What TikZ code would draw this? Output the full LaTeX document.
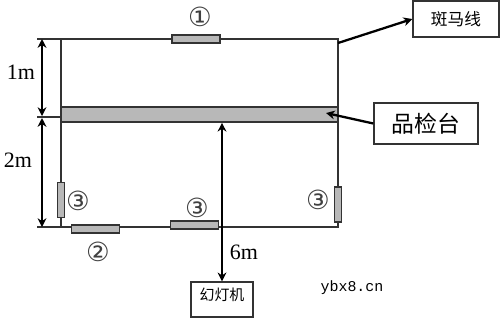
\documentclass[tikz,border=0pt]{standalone}
\usepackage{fontspec}
\setmainfont{Liberation Serif}
\newfontfamily\cjk{Noto Sans CJK SC}
\newfontfamily\circfont{DejaVu Sans}
\newfontfamily\monofnt{Liberation Mono}
\usetikzlibrary{arrows.meta}
\begin{document}
\begin{tikzpicture}[x=0.02cm,y=-0.02cm,
  wire/.style={draw=black!80, line width=0.9pt},
  hcomp/.style={draw=black!80, fill=black!28, line width=0.8pt, inner sep=0, minimum width=0.96cm, minimum height=0.16cm},
  vcomp/.style={draw=black!80, fill=black!28, line width=0.8pt, inner sep=0, minimum width=0.14cm, minimum height=0.7cm},
  arr/.style={line width=1.3pt, -{Stealth[length=5pt,width=5pt]}},
  dim/.style={line width=1.3pt, {Stealth[length=5pt,width=5pt]}-{Stealth[length=5pt,width=5pt]}},
  lbox/.style={draw=black!80, line width=0.8pt, inner sep=0},
  circ/.style={font=\circfont\fontsize{15}{15}\selectfont, text=black!75, inner sep=0},
  dimlab/.style={font=\fontsize{12.5}{12.5}\selectfont, inner sep=0}]
\useasboundingbox (0,0) rectangle (500,319);
% frame wires
\coordinate (tl) at (61,39);
\coordinate (tr) at (338,39);
\coordinate (bl) at (61,227);
\coordinate (br) at (338,227);
\coordinate (tlx) at (37,39);
\coordinate (blx) at (37,227);
\coordinate (mlx) at (37,117);
\coordinate (ml) at (61,117);
\draw[wire] (tlx) -- (tr) -- (br) -- (blx);
\draw[wire] (tl) -- (bl);
\draw[wire] (mlx) -- (ml);
% inspection bench bar
\node[draw=black!80, fill=black!28, line width=0.9pt, inner sep=0, minimum width=5.54cm, minimum height=0.3cm] (bar) at (199.5,114.5) {};
% components
\node[hcomp] (c1) at (196,39) {};
\node[vcomp] (c3a) at (61,200) {};
\node[hcomp] (c2) at (95.5,229) {};
\node[hcomp] (c3b) at (194.5,225) {};
\node[vcomp] (c3c) at (338,204.5) {};
% component labels
\node[circ] (l1) at (200,17) {①};
\node[circ] (l3a) at (78,201) {③};
\node[circ] (l2) at (98,252) {②};
\node[circ] (l3b) at (197,208) {③};
\node[circ] (l3c) at (318,200) {③};
% dimension arrows
\coordinate (d1t) at (42,39);
\coordinate (d1b) at (42,116);
\coordinate (d2t) at (42,118);
\coordinate (d2b) at (42,227);
\draw[dim] (d1t) -- (d1b);
\draw[dim] (d2t) -- (d2b);
\node[dimlab] (m1) at (21,72) {1m};
\node[dimlab] (m2) at (18,160) {2m};
% projector
\node[lbox, minimum width=1.24cm, minimum height=0.7cm, text height=0.22cm, text depth=0.2cm, font=\cjk\fontsize{8.5}{8.5}\selectfont] (proj) at (222,299.5) {幻灯机};
\draw[dim] (bar.south -| proj.north) -- (proj.north);
\node[dimlab] (m6) at (244,252) {6m};
% zebra line label
\node[lbox, minimum width=1.72cm, minimum height=0.72cm, font=\cjk\fontsize{9.5}{9.5}\selectfont] (zebra) at (456,19) {斑马线};
\coordinate (zc) at (338,43);
\draw[arr] (zc) -- (zebra.west);
% inspection bench label
\node[lbox, minimum width=2.08cm, minimum height=0.82cm, font=\cjk\fontsize{13}{13}\selectfont] (bench) at (426,123.5) {品检台};
\coordinate (bp) at (326,113);
\draw[arr] (bench.west) -- (bp);
% watermark
\node[font=\monofnt\fontsize{8.5}{8.5}\selectfont, inner sep=0] (wm) at (352,288) {ybx8.cn};
\end{tikzpicture}
\end{document}
